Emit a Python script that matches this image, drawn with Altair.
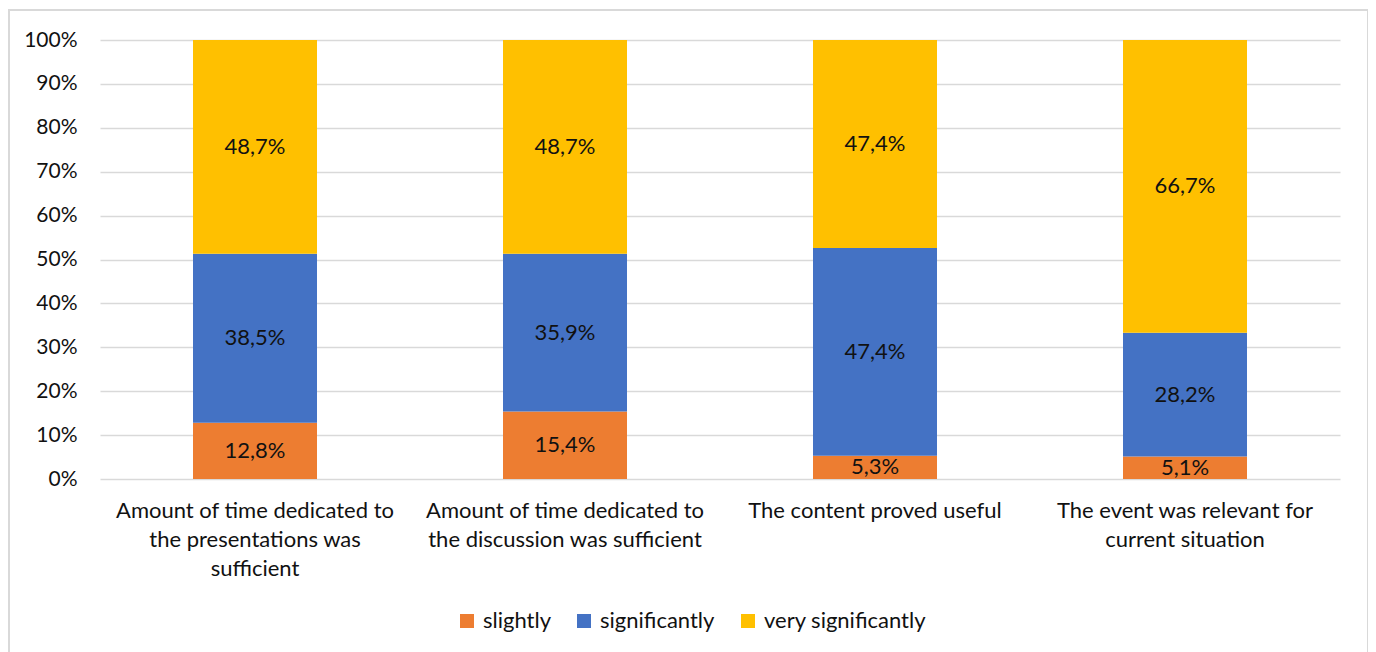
import altair as alt
import pandas as pd

categories = [
    "Amount of time dedicated to|the presentations was|sufficient",
    "Amount of time dedicated to|the discussion was sufficient",
    "The content proved useful",
    "The event was relevant for|current situation",
]
series = ["slightly", "significantly", "very significantly"]
slightly = [12.8, 15.4, 5.3, 5.1]
significantly = [38.5, 35.9, 47.4, 28.2]
very_significantly = [48.7, 48.7, 47.4, 66.7]
colors = ["#ED7D31", "#4472C4", "#FFC000"]

rows = []
for i, c in enumerate(categories):
    for j, (s, vals) in enumerate(zip(series, [slightly, significantly, very_significantly])):
        rows.append({"category": c, "series": s, "order": j, "value": vals[i]})
df = pd.DataFrame(rows)

FONT = "Lato"
TXT = "#111111"

base = alt.Chart(df).transform_stack(
    stack="value", groupby=["category"], sort=[alt.SortField("order")],
    as_=["y0", "y1"], offset="normalize"
).transform_calculate(
    mid="(datum.y0 + datum.y1) / 2",
    lab="replace(format(datum.value, '.1f'), '.', ',') + '%'"
)

x_enc = alt.X("category:N", sort=categories, title=None,
              scale=alt.Scale(paddingInner=0.6, paddingOuter=0.3),
              axis=alt.Axis(labelExpr="split(datum.label, '|')", labelAngle=0,
                            labelFontSize=22, labelFont=FONT, labelColor=TXT,
                            labelLineHeight=29, labelPadding=21, ticks=False,
                            domain=False, labelBaseline="top", labelLimit=400))

bars = base.mark_bar().encode(
    x=x_enc,
    y=alt.Y("y0:Q", title=None, scale=alt.Scale(domain=[0, 1]),
            axis=alt.Axis(format="%", values=[i / 10 for i in range(11)],
                          labelFontSize=21, labelFont=FONT, labelColor=TXT,
                          labelPadding=23, ticks=False, domain=False,
                          gridColor="#d9d9d9", gridWidth=1.5)),
    y2="y1:Q",
    color=alt.Color("series:N", sort=series,
                    scale=alt.Scale(domain=series, range=colors),
                    legend=alt.Legend(title=None, orient="none", direction="horizontal",
                                      legendX=356, legendY=570,
                                      symbolType="square", symbolSize=196,
                                      symbolStrokeWidth=0, symbolOpacity=1,
                                      labelFontSize=22, labelFont=FONT, labelColor=TXT,
                                      labelOffset=5, columnPadding=22, labelLimit=400)),
    order=alt.Order("order:Q"),
)

labels = base.mark_text(fontSize=22, font=FONT, color=TXT, baseline="middle").encode(
    x=alt.X("category:N", sort=categories),
    y=alt.Y("mid:Q"),
    text="lab:N",
)

frame = alt.Chart(pd.DataFrame({"a": [0]})).mark_rect(
    fill=None, stroke="#d9d9d9", strokeWidth=2
).encode(
    x=alt.value(-91), x2=alt.value(1268), y=alt.value(-30), y2=alt.value(640)
)

chart = alt.layer(bars, labels, frame).properties(
    width=1240, height=439,
    autosize=alt.AutoSizeParams(type="none"),
    padding={"left": 92, "top": 32, "right": 28, "bottom": 173},
).configure_view(stroke=None)

chart.save("out.html", embed_options={"renderer": "svg", "actions": False})
